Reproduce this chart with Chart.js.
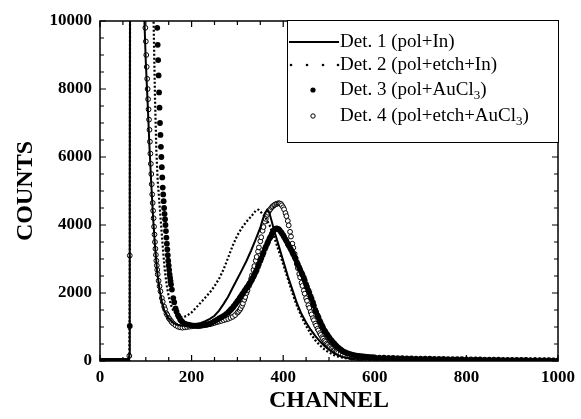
<!DOCTYPE html>
<html>
<head>
<meta charset="utf-8">
<script src="https://cdn.jsdelivr.net/npm/chart.js@4.4.1/dist/chart.umd.min.js"></script>
<style>
html,body{margin:0;padding:0;background:#fff;}
#wrap{width:581px;height:419px;}
</style>
</head>
<body>
<div id="wrap"><canvas id="c" width="581" height="419"></canvas></div>
<script>
// [channel, counts], one array per detector
const det1Data = [[0,0],[63,0],[64,200],[65,5000],[66,15000],[96,11000],[97,10000],[100,8800],[104,7600],[108,6300],[112,5200],[116,4200],[120,3400],[125,2600],[130,2100],[135,1750],[140,1500],[150,1250],[160,1120],[170,1060],[180,1040],[190,1050],[200,1070],[210,1090],[220,1120],[230,1170],[240,1240],[250,1330],[260,1480],[270,1680],[280,1900],[290,2160],[300,2420],[310,2680],[320,2950],[330,3250],[340,3580],[350,3920],[355,4150],[360,4350],[365,4450],[370,4350],[375,4100],[380,3850],[390,3400],[400,2950],[410,2500],[420,2100],[430,1700],[440,1380],[450,1130],[460,920],[470,740],[480,580],[490,440],[500,330],[510,240],[520,170],[530,120],[550,75],[600,45],[700,25],[800,15],[900,10],[1000,8]];

const det2Data = [[0,0],[64,0],[65,3000],[66,15000],[115,11000],[117,10000],[120,7800],[123,6200],[126,5300],[130,4600],[134,3900],[138,3200],[142,2600],[146,2200],[150,1900],[155,1650],[160,1480],[170,1320],[180,1280],[190,1330],[200,1430],[210,1570],[220,1720],[230,1870],[240,2020],[250,2200],[260,2420],[270,2700],[280,3050],[290,3400],[300,3700],[310,3920],[320,4100],[330,4250],[340,4420],[346,4450],[350,4400],[360,4250],[370,4000],[380,3650],[390,3250],[400,2850],[410,2420],[420,2000],[430,1620],[440,1300],[450,1030],[460,800],[470,610],[480,460],[490,340],[500,250],[510,180],[520,130],[530,95],[550,60],[600,35],[700,20],[800,12],[1000,6]];

const det3Data = [[0,0],[5,0],[10,0],[15,0],[20,0],[25,0],[30,0],[35,0],[40,0],[45,0],[50,0],[55,0],[60,0],[65,1030],
  [125,9800],[126,9300],[127,8850],[128,8400],[129,7900],[130,7450],[131,7000],[132,6650],[133,6300],[134,6000],[135,5700],[136,5400],[137,5100],[138,4900],[139,4700],[140,4500],[141,4330],[142,4170],[143,4000],[144,3820],[145,3630],[146,3450],[147,3280],[148,3110],[149,2950],[150,2810],[151,2680],[152,2550],[153,2450],[154,2350],[155,2250],
  [157,2100],[160,1850],[162,1730],[165,1550],[167,1460],[170,1350],[172,1300],[175,1220],[177,1190],[180,1150],
  [185,1100],[190,1080],[195,1060],[200,1050],[205,1040],[210,1040],[215,1030],[220,1040],[225,1050],[230,1060],[235,1080],[240,1100],[245,1130],[250,1170],[255,1210],[260,1250],[265,1290],[270,1330],[275,1380],
  [280,1430],[282,1460],[285,1500],[287,1530],[290,1570],[292,1610],[295,1660],[297,1700],[300,1750],[302,1790],[305,1850],[307,1890],[310,1950],[312,1990],[315,2050],[317,2090],[320,2150],[322,2190],[325,2250],[327,2290],
  [330,2350],[332,2400],[335,2480],[337,2540],[340,2620],[342,2680],[345,2780],[347,2850],[350,2950],[352,3020],[355,3120],[357,3190],[360,3300],[362,3360],[365,3450],[367,3510],[370,3600],[372,3650],[375,3730],[377,3780],
  [380,3850],[382,3880],[385,3900],[387,3895],[390,3880],[392,3850],[395,3800],[397,3760],[400,3700],[402,3650],[405,3580],[407,3530],[410,3450],[412,3400],[415,3330],[417,3280],[420,3200],[422,3140],[425,3060],[427,3000],
  [430,2900],[432,2840],[435,2750],[437,2690],[440,2600],[442,2540],[445,2450],[447,2370],[450,2250],[452,2180],[455,2080],[457,2010],[460,1900],[462,1830],[465,1720],[467,1630],[470,1500],[472,1440],[475,1340],[477,1280],
  [480,1180],[482,1120],[485,1040],[487,980],[490,900],[492,860],[495,800],[497,760],[500,700],[502,660],[505,610],[507,580],[510,530],[512,500],[515,460],[517,430],[520,390],[522,370],[525,340],[527,320],[530,290],
  [535,260],[540,230],[545,210],[550,190],[555,175],[560,160],[565,150],[570,140],[575,132],[580,125],[585,120],[590,115],[595,110],
  [600,105],[610,100],[620,96],[630,92],[640,88],[650,85],[660,82],[670,78],[680,75],[690,72],[700,70],[710,68],[720,66],[730,64],[740,62],[750,60],[760,58],[770,56],[780,54],[790,52],[800,50],
  [810,48],[820,46],[830,44],[840,42],[850,40],[860,38],[870,37],[880,36],[890,35],[900,34],[910,32],[920,30],[930,29],[940,28],[950,26],[960,25],[970,24],[980,22],[990,21],[1000,20]];

const det4Data = [[0,0],[5,0],[10,0],[15,0],[20,0],[25,0],[30,0],[35,0],[40,0],[45,0],[50,0],[55,0],[60,0],[64,150],[65,3100],
  [99,9800],[100,9400],[101,9000],[102,8650],[103,8300],[104,8000],[105,7700],[106,7400],[107,7100],[108,6800],[109,6450],[110,6100],[111,5800],[112,5500],[113,5200],[114,4900],[115,4650],[116,4420],[117,4200],[118,3950],[119,3720],[120,3500],[121,3300],[122,3120],[123,2950],[124,2810],[125,2680],[126,2550],
  [128,2360],[130,2200],[132,2050],[135,1850],[137,1740],[140,1600],[142,1520],[145,1400],[147,1350],[150,1270],[152,1230],[155,1180],[157,1140],[160,1100],
  [165,1050],[170,1010],[175,990],[180,980],[185,990],[190,1000],[195,1010],[200,1020],[205,1030],[210,1030],[215,1040],[220,1040],[225,1050],[230,1060],[235,1070],[240,1080],[245,1100],[250,1120],[255,1140],[260,1160],[265,1180],[270,1200],[275,1220],[280,1240],[285,1270],[290,1300],[295,1350],
  [300,1420],[302,1450],[305,1500],[307,1550],[310,1620],[312,1690],[315,1800],[317,1880],[320,2000],[322,2080],[325,2200],[327,2290],[330,2420],[332,2520],[335,2680],[337,2790],[340,2950],[342,3060],[345,3220],[347,3340],
  [350,3520],[352,3640],[355,3830],[357,3940],[360,4100],[362,4180],[365,4300],[367,4360],[370,4430],[372,4470],[375,4520],[377,4550],[380,4580],[382,4600],[385,4620],[387,4630],[390,4640],[392,4635],[395,4620],[397,4580],
  [400,4520],[402,4460],[405,4350],[407,4260],[410,4120],[412,3990],[415,3800],[417,3660],[420,3450],[422,3330],[425,3150],[427,3030],[430,2850],[432,2730],[435,2560],[437,2460],[440,2300],[442,2210],[445,2070],[447,1980],
  [450,1850],[452,1770],[455,1640],[457,1560],[460,1440],[462,1370],[465,1260],[467,1200],[470,1100],[472,1040],[475,950],[477,900],[480,820],[482,770],[485,700],[487,660],[490,600],[492,560],[495,510],[497,480],
  [500,440],[502,415],[505,380],[507,355],[510,320],[512,305],[515,280],[517,265],[520,240],[525,210],[530,180],
  [535,160],[540,140],[545,125],[550,110],[555,100],[560,90],[565,82],[570,75],[575,70],[580,65],[585,62],[590,58],[595,56],
  [600,55],[610,52],[620,50],[630,48],[640,46],[650,44],[660,42],[670,40],[680,38],[690,36],[700,34],[710,33],[720,32],[730,31],[740,30],[750,29],[760,28],[770,27],[780,26],[790,25],[800,24],
  [810,23],[820,22],[830,21],[840,20],[850,19],[860,18],[870,18],[880,17],[890,16],[900,15],[910,15],[920,14],[930,13],[940,13],[950,12],[960,12],[970,11],[980,11],[990,10],[1000,10]];

const xTicks = [0,200,400,600,800,1000];
const yTicks = [0,2000,4000,6000,8000,10000];
const legendLabels = ['Det. 1 (pol+In)','Det. 2 (pol+etch+In)','Det. 3 (pol+AuCl','Det. 4 (pol+etch+AuCl'];

const SERIF = "'Liberation Serif','Times New Roman',serif";
const pts = (arr) => arr.map(p=>({x:p[0], y:p[1]}));

// frame, inward ticks (major + minor) on all four sides, and the boxed legend
const framePlugin = {
  id:'frame',
  afterDraw(chart){
    const ctx = chart.ctx, a = chart.chartArea;
    const xs = chart.scales.x, ys = chart.scales.y;
    ctx.save();
    ctx.strokeStyle = '#000';
    ctx.lineWidth = 1.5;
    ctx.strokeRect(a.left, a.top, a.right-a.left, a.bottom-a.top);
    ctx.lineWidth = 1.2;
    ctx.beginPath();
    for(let v=0; v<=1000; v+=50){
      const p = xs.getPixelForValue(v), len = (v%200===0) ? 6 : 4;
      ctx.moveTo(p, a.bottom); ctx.lineTo(p, a.bottom-len);
      ctx.moveTo(p, a.top); ctx.lineTo(p, a.top+len);
    }
    for(let v=0; v<=10000; v+=500){
      const p = ys.getPixelForValue(v), len = (v%2000===0) ? 6 : 4;
      ctx.moveTo(a.left, p); ctx.lineTo(a.left+len, p);
      ctx.moveTo(a.right, p); ctx.lineTo(a.right-len, p);
    }
    ctx.stroke();

    // legend box
    const bx = 287, by = a.top-1, bw = a.right-bx, bh = 142-by;
    ctx.fillStyle = '#fff';
    ctx.fillRect(bx, by, bw, bh);
    ctx.lineWidth = 1;
    ctx.strokeRect(bx+0.5, by+0.5, bw, bh);
    const rows = [42, 65, 90, 116];
    const tx = 340;
    ctx.fillStyle = '#000';
    ctx.lineWidth = 2.2;
    ctx.beginPath(); ctx.moveTo(289, rows[0]); ctx.lineTo(339, rows[0]); ctx.stroke();
    [291,307,323,338].forEach(x=>{ ctx.beginPath(); ctx.arc(x, rows[1], 1.3, 0, Math.PI*2); ctx.fill(); });
    ctx.beginPath(); ctx.arc(313, rows[2], 2.6, 0, Math.PI*2); ctx.fill();
    ctx.lineWidth = 1;
    ctx.beginPath(); ctx.arc(313, rows[3], 2.2, 0, Math.PI*2); ctx.fillStyle='#fff'; ctx.fill(); ctx.stroke();
    ctx.fillStyle = '#000';
    ctx.textBaseline = 'middle';
    ctx.textAlign = 'left';
    legendLabels.forEach((t,i)=>{
      ctx.font = '19px ' + SERIF;
      ctx.fillText(t, tx, rows[i]);
      if(i>=2){
        let w = ctx.measureText(t).width;
        ctx.font = '13px ' + SERIF;
        ctx.fillText('3', tx+w, rows[i]+6);
        w += ctx.measureText('3').width;
        ctx.font = '19px ' + SERIF;
        ctx.fillText(')', tx+w, rows[i]);
      }
    });
    ctx.restore();
  }
};

new Chart(document.getElementById('c'), {
  type:'scatter',
  data:{ datasets:[
    { label:legendLabels[0], data:pts(det1Data), showLine:true, pointRadius:0, borderColor:'#000', borderWidth:2 },
    { label:legendLabels[1], data:pts(det2Data), showLine:true, pointRadius:0, borderColor:'#000', borderWidth:2.2, borderDash:[2,2] },
    { label:legendLabels[2], data:pts(det3Data), showLine:false, pointRadius:2.9, backgroundColor:'#000', borderColor:'#000', borderWidth:0 },
    { label:legendLabels[3], data:pts(det4Data), showLine:false, pointRadius:2.4, backgroundColor:'#fff', borderColor:'#000', borderWidth:1 }
  ]},
  options:{
    responsive:false,
    animation:false,
    events:[],
    layout:{ padding:{ left:0, right:18, top:21, bottom:0 } },
    plugins:{ legend:{display:false}, tooltip:{enabled:false} },
    scales:{
      x:{
        type:'linear', min:0, max:1000,
        afterBuildTicks(s){ s.ticks = xTicks.map(v=>({value:v})); },
        afterFit(s){ s.height = 58; },
        ticks:{ color:'#000', padding:6, maxRotation:0, font:{family:SERIF, size:17, weight:'bold'}, callback:(v)=>String(v) },
        grid:{ display:false, drawTicks:false },
        border:{ display:false },
        title:{ display:true, text:'CHANNEL', color:'#000', font:{family:SERIF, size:24, weight:'bold'}, padding:{top:2, bottom:4} }
      },
      y:{
        min:0, max:10000,
        afterBuildTicks(s){ s.ticks = yTicks.map(v=>({value:v})); },
        afterFit(s){ s.width = 100; },
        ticks:{ color:'#000', padding:8, font:{family:SERIF, size:17, weight:'bold'}, callback:(v)=>String(v) },
        grid:{ display:false, drawTicks:false },
        border:{ display:false },
        title:{ display:true, text:'COUNTS', color:'#000', font:{family:SERIF, size:24, weight:'bold'}, padding:{top:11, bottom:0} }
      }
    }
  },
  plugins:[framePlugin]
});
</script>
</body>
</html>
